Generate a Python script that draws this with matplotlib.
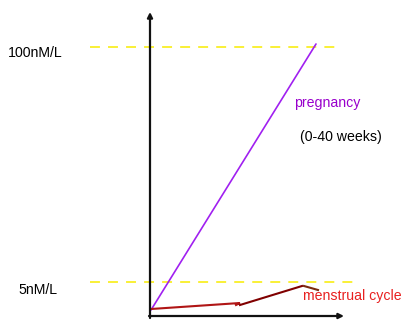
import matplotlib
matplotlib.use("Agg")
import matplotlib.pyplot as plt

# Diagram coordinates (horizontal = time units, vertical = level units, drawn top-down)
axis_origin = (150, 316)
y_axis_top = 12
x_axis_right = 344

level_labels = ["100nM/L", "5nM/L"]
level_y = [47, 282]
level_x_start = [90, 90]
level_x_end = [340, 356]

pregnancy_x = [151, 316]
pregnancy_y = [310, 44]

cycle1_x = [151, 240, 236]
cycle1_y = [309, 303, 305]
cycle2_x = [240, 302]
cycle2_y = [305, 286]
cycle3_x = [304, 318]
cycle3_y = [286, 290]

fig = plt.figure(figsize=(4.07, 3.20), dpi=100)
ax = fig.add_axes([0, 0, 1, 1])
ax.set_xlim(0, 407)
ax.set_ylim(320, 0)
ax.axis("off")

font = "Liberation Sans"
fs = 10.2

# axes arrows
ax.annotate("", xy=(axis_origin[0], y_axis_top), xytext=(axis_origin[0], axis_origin[1] + 2),
            arrowprops=dict(arrowstyle="-|>,head_length=0.3,head_width=0.15", color="#111111", lw=1.6,
                            shrinkA=0, shrinkB=0))
ax.annotate("", xy=(x_axis_right, axis_origin[1]), xytext=(axis_origin[0] - 1, axis_origin[1]),
            arrowprops=dict(arrowstyle="-|>,head_length=0.3,head_width=0.15", color="#111111", lw=1.6,
                            shrinkA=0, shrinkB=0))

# level lines
for lab, y, xs, xe in zip(level_labels, level_y, level_x_start, level_x_end):
    ax.plot([xs, xe], [y, y], color="#F8EC00", lw=1.1, linestyle=(0, (6.5, 5.3)))

ax.text(8, 57, level_labels[0], fontsize=fs, family=font, color="black", va="baseline", ha="left")
ax.text(18, 294, level_labels[1], fontsize=fs, family=font, color="black", va="baseline", ha="left")

# pregnancy
ax.plot(pregnancy_x, pregnancy_y, color="#A020F0", lw=1.2, solid_capstyle="round")
ax.text(294, 107, "pregnancy", fontsize=fs, family=font, color="#9900CC", va="baseline", ha="left")
ax.text(300, 141, "(0-40 weeks)", fontsize=fs, family=font, color="black", va="baseline", ha="left")

# menstrual cycle
ax.plot(cycle1_x, cycle1_y, color="#B01515", lw=1.5, solid_joinstyle="miter")
ax.plot(cycle2_x, cycle2_y, color="#800000", lw=1.5)
ax.plot(cycle3_x, cycle3_y, color="#7A2A10", lw=1.5)
ax.text(303, 300, "menstrual cycle", fontsize=fs, family=font, color="#E82020", va="baseline", ha="left")

fig.savefig("out.png", dpi=100)
